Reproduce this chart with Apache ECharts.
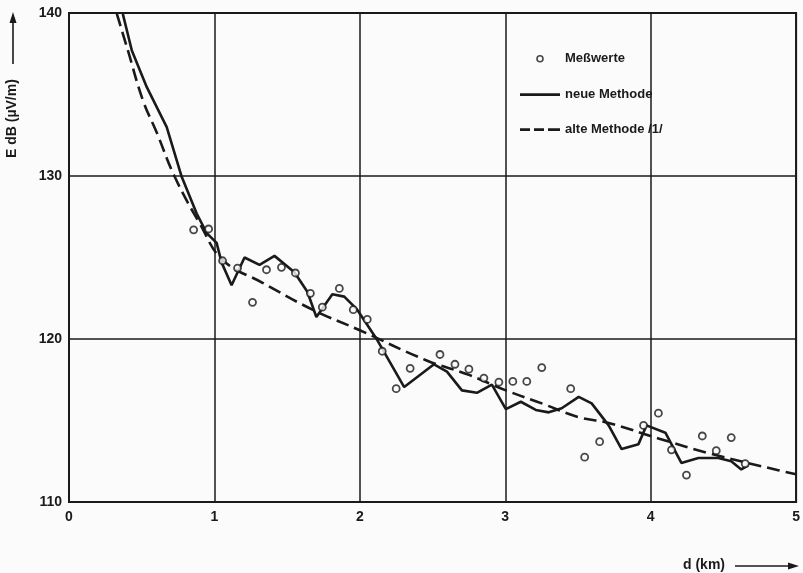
<!DOCTYPE html>
<html>
<head>
<meta charset="utf-8">
<script src="https://cdn.jsdelivr.net/npm/echarts@6/dist/echarts.min.js"></script>
<style>
html,body{margin:0;padding:0;background:#fbfbfb;}
#chart{width:803px;height:573px;}
</style>
</head>
<body>
<div id="chart"></div>
<script>
// Measured values (d in km, E in dB(µV/m))
const messD = [0.857,0.960,1.056,1.159,1.262,1.358,1.461,1.557,1.660,1.742,1.859,1.955,2.051,2.154,2.250,2.346,2.551,2.654,2.750,2.853,2.956,3.052,3.148,3.251,3.450,3.546,3.649,3.951,4.053,4.143,4.246,4.355,4.451,4.554,4.650];
const messE = [126.7,126.75,124.8,124.35,122.25,124.25,124.4,124.05,122.8,121.95,123.1,121.8,121.2,119.25,116.95,118.2,119.05,118.45,118.15,117.6,117.35,117.4,117.4,118.25,116.95,112.75,113.7,114.7,115.45,113.2,111.65,114.05,113.15,113.95,112.35];

// neue Methode
const neuD = [0.370,0.432,0.535,0.672,0.775,0.878,0.947,1.015,1.049,1.118,1.207,1.310,1.413,1.550,1.639,1.701,1.811,1.893,1.982,2.112,2.305,2.510,2.599,2.702,2.805,2.908,3.004,3.107,3.210,3.299,3.388,3.505,3.594,3.711,3.800,3.916,3.971,4.101,4.211,4.328,4.465,4.554,4.623,4.671];
const neuE = [139.95,137.7,135.45,133.0,129.95,127.7,126.5,125.9,124.7,123.3,125.0,124.55,125.1,124.1,122.9,121.35,122.75,122.6,121.8,120.05,117.05,118.45,118.0,116.85,116.7,117.2,115.7,116.15,115.65,115.5,115.75,116.45,116.05,114.7,113.25,113.55,114.7,114.25,112.4,112.7,112.7,112.5,112.0,112.25];

// alte Methode /1/
const altD = [0.329,0.405,0.508,0.604,0.727,0.898,1.056,1.331,1.674,1.996,2.455,2.750,3.004,3.251,3.505,3.711,4.053,4.396,4.877,5.0];
const altE = [139.95,137.7,134.65,132.65,129.95,127.1,124.85,123.45,121.8,120.55,118.7,117.8,116.85,116.05,115.2,114.85,113.9,113.0,111.95,111.7];

const xTicks = [0,1,2,3,4,5];
const yTicks = [110,120,130,140];

const zip = (a,b) => a.map((v,i)=>[v,b[i]]);
const FONT = '"Liberation Sans", Arial, sans-serif';
const INK = '#1a1a1a';
const BG = '#fbfbfb';

const chart = echarts.init(document.getElementById('chart'), null, {renderer:'canvas'});
chart.setOption({
  backgroundColor: BG,
  animation: false,
  grid: {left: 69, right: 5, top: 13, bottom: 71, show: true, borderColor: INK, borderWidth: 2},
  xAxis: {
    type: 'value', min: xTicks[0], max: xTicks[xTicks.length-1], interval: 1,
    axisLine: {show: true, lineStyle: {color: INK, width: 2}},
    axisTick: {show: false},
    splitLine: {show: true, lineStyle: {color: INK, width: 1.5}},
    axisLabel: {color: INK, fontFamily: FONT, fontWeight: 'bold', fontSize: 14, margin: 8}
  },
  yAxis: {
    type: 'value', min: yTicks[0], max: yTicks[yTicks.length-1], interval: 10,
    axisLine: {show: true, lineStyle: {color: INK, width: 2}},
    axisTick: {show: false},
    splitLine: {show: true, lineStyle: {color: INK, width: 1.5}},
    axisLabel: {color: INK, fontFamily: FONT, fontWeight: 'bold', fontSize: 14, margin: 7}
  },
  legend: {
    orient: 'vertical', left: 515, top: 46, itemWidth: 40, itemHeight: 14, itemGap: 21,
    textStyle: {color: INK, fontFamily: FONT, fontWeight: 'bold', fontSize: 13, padding: [0,0,0,0]},
    data: [
      {name: 'Meßwerte', icon: 'path://M-7,-7 M7,7 M-3,0 A3,3 0 1,0 3,0 A3,3 0 1,0 -3,0 Z',
       itemStyle: {color: 'rgba(0,0,0,0)', borderColor: INK, borderWidth: 1.6}},
      {name: 'neue Methode', icon: 'path://M0,0 M40,14 M0,5.7 L40,5.7 L40,8.3 L0,8.3 Z',
       itemStyle: {color: INK, borderWidth: 0}},
      {name: 'alte Methode /1/', icon: 'path://M0,0 M40,14 M0,5.7 L10,5.7 L10,8.3 L0,8.3 Z M14,5.7 L24,5.7 L24,8.3 L14,8.3 Z M28,5.7 L40,5.7 L40,8.3 L28,8.3 Z',
       itemStyle: {color: INK, borderWidth: 0}}
    ]
  },
  series: [
    {
      name: 'Meßwerte', type: 'scatter', data: zip(messD, messE),
      symbol: 'circle', symbolSize: 7,
      itemStyle: {color: BG, borderColor: INK, borderWidth: 1.8},
      z: 5
    },
    {
      name: 'neue Methode', type: 'line', data: zip(neuD, neuE),
      showSymbol: false, smooth: false,
      lineStyle: {color: INK, width: 2.6}, itemStyle: {color: INK}, z: 4
    },
    {
      name: 'alte Methode /1/', type: 'line', data: zip(altD, altE),
      showSymbol: false, smooth: 0.4,
      lineStyle: {color: INK, width: 2.6, type: [13, 6]}, itemStyle: {color: INK}, z: 3
    }
  ],
  graphic: [
    {
      type: 'group', left: 5, top: 12,
      children: [
        {type: 'text', rotation: Math.PI/2, x: 0, y: 146,
         style: {text: 'E dB (µV/m)', fill: INK, font: 'bold 14px ' + FONT, textVerticalAlign: 'top'}},
        {type: 'line', shape: {x1: 8, y1: 52, x2: 8, y2: 8}, style: {stroke: INK, lineWidth: 1.6}},
        {type: 'polygon', shape: {points: [[8,0],[4.5,11],[11.5,11]]}, style: {fill: INK}}
      ]
    },
    {
      type: 'group', left: 683, top: 558,
      children: [
        {type: 'text', x: 0, y: 0, style: {text: 'd (km)', fill: INK, font: 'bold 14px ' + FONT}},
        {type: 'line', shape: {x1: 52, y1: 8, x2: 108, y2: 8}, style: {stroke: INK, lineWidth: 1.6}},
        {type: 'polygon', shape: {points: [[116,8],[105,4.5],[105,11.5]]}, style: {fill: INK}}
      ]
    }
  ]
});
</script>
</body>
</html>
